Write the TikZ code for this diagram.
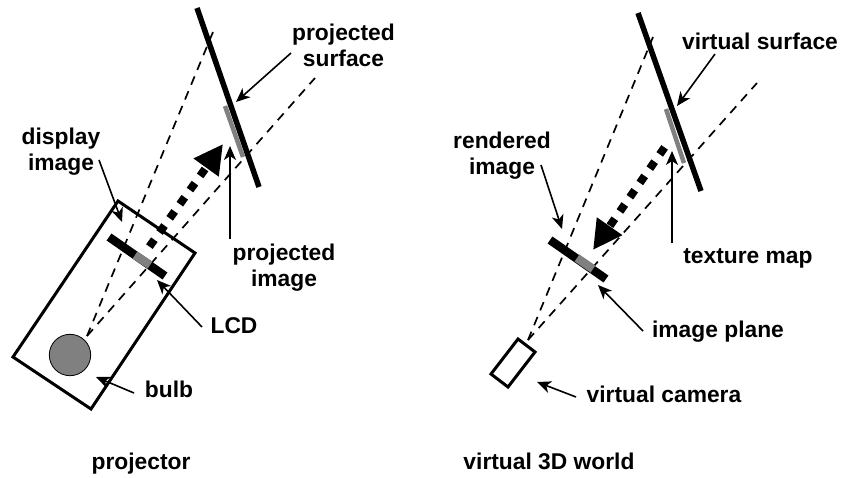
\documentclass[tikz,border=0pt]{standalone}
\usepackage{fontspec}
\setmainfont{Liberation Sans}
\usetikzlibrary{arrows.meta}
\tikzset{>={Stealth[length=14pt,width=12pt,inset=4pt]}}
\colorlet{strip}{black!50}
\tikzset{
  label/.style={font=\fontsize{22.8}{26}\selectfont\bfseries,align=center,inner sep=0pt},
  note/.style={->,line width=1.6pt},
  ray/.style={line width=1.7pt,dash pattern=on 9pt off 7pt},
  surface/.style={line width=5.5pt},
  patch/.style={strip,line width=4.5pt},
  plane/.style={line width=8.5pt},
  flow/.style={-{Triangle[length=29pt,width=29pt]},line width=8pt,dash pattern=on 8.5pt off 8.9pt}
}

\begin{document}
\begin{tikzpicture}[x=1pt,y=-1pt]
  \useasboundingbox (0,0) rectangle (842,478);

  % projector
  \coordinate (bulbC) at (87,336);
  \coordinate (flowA) at (149.4,246.6);
  \coordinate (flowB) at (223,144);
  \draw[line width=3pt,line join=miter] (118,201) -- (195,253) -- (91,409) -- (13,357) -- cycle;
  \draw[ray] (bulbC) -- (213,32);
  \draw[ray] (bulbC) -- (315,78);
  \draw[flow] (flowA) -- (flowB);
  \draw[patch] (225,106) -- (243,157);
  \draw[surface] (197,8) -- (259,187);
  \draw[plane] (109,237) -- (165,276);
  \draw[plane,strip] (135,255) -- (150,265);
  \draw[fill=strip,line width=0.8pt] (70,355) circle (20.7);

  \node[label] (projSurface) at (343.5,45) {projected\\surface};
  \node[label] (dispImage) at (61,152) {display\\image};
  \node[label] (projImage) at (284,268) {projected\\image};
  \node[label] (lcd) at (234,326) {LCD};
  \node[label] (bulb) at (169,389) {bulb};
  \node[label] (projector) at (141,464) {projector};

  \coordinate (a1) at (291,53);   \coordinate (b1) at (236,102);
  \coordinate (a2) at (99,160);   \coordinate (b2) at (122,222);
  \coordinate (a3) at (230,239);  \coordinate (b3) at (230,146);
  \coordinate (a4) at (202,327);  \coordinate (b4) at (157,280);
  \coordinate (a5) at (134,393);  \coordinate (b5) at (96,377);
  \draw[note] (a1) -- (b1);
  \draw[note] (a2) -- (b2);
  \draw[note] (a3) -- (b3);
  \draw[note] (a4) -- (b4);
  \draw[note] (a5) -- (b5);

  % virtual world
  \coordinate (camC) at (528,340);
  \coordinate (flowC) at (664.6,147.4);
  \coordinate (flowD) at (593,250);
  \draw[ray] (camC) -- (653,37);
  \draw[ray] (camC) -- (757,83);
  \draw[flow] (flowC) -- (flowD);
  \draw[patch] (666,109) -- (684,163);
  \draw[surface] (638,13) -- (701,191);
  \draw[plane] (550,240) -- (606,279);
  \draw[plane,strip] (577,258) -- (593,269);
  \draw[line width=3pt] (518,339) -- (535,352) -- (508,387) -- (491,374) -- cycle;

  \node[label] (virtSurface) at (760,41) {virtual surface};
  \node[label] (rendImage) at (502,156) {rendered\\image};
  \node[label] (texMap) at (748,258) {texture map};
  \node[label] (imgPlane) at (718,332) {image plane};
  \node[label] (virtCam) at (664,394) {virtual camera};
  \node[label] (world) at (549,461) {virtual 3D world};

  \coordinate (c1) at (715,54);   \coordinate (d1) at (677,106);
  \coordinate (c2) at (541,165);  \coordinate (d2) at (562,229);
  \coordinate (c3) at (672,243);  \coordinate (d3) at (672,151);
  \coordinate (c4) at (643,331);  \coordinate (d4) at (598,285);
  \coordinate (c5) at (576,397);  \coordinate (d5) at (537,382);
  \draw[note] (c1) -- (d1);
  \draw[note] (c2) -- (d2);
  \draw[note] (c3) -- (d3);
  \draw[note] (c4) -- (d4);
  \draw[note] (c5) -- (d5);
\end{tikzpicture}
\end{document}
